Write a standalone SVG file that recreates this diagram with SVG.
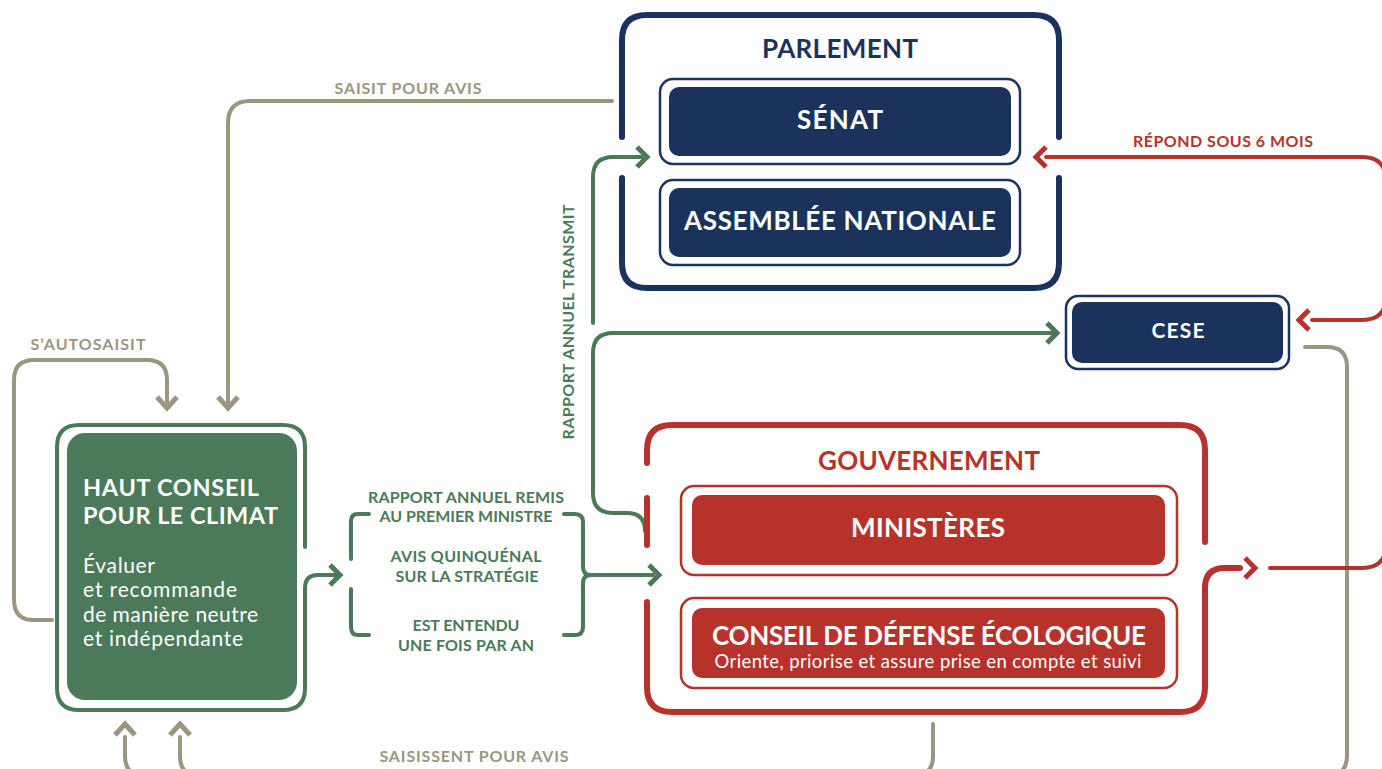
<svg xmlns="http://www.w3.org/2000/svg" width="1382" height="769" viewBox="0 0 1382 769">
<style>
.t{font-family:Lato,"Open Sans","Liberation Sans",sans-serif;font-weight:700}
.r{font-family:Lato,"Open Sans","Liberation Sans",sans-serif;font-weight:400}
.w{fill:#fff}
.navy{stroke:#1b335c}
.red{stroke:#b8322c}
.grn{stroke:#4a7a5a}
.gry{stroke:#9b9680}
.box{fill:none;stroke-width:6;stroke-linecap:round}
.ol{fill:#fff;stroke-width:2.5}
.ln{fill:none;stroke-width:4;stroke-linecap:round}
.ch{fill:none;stroke-width:5;stroke-linejoin:miter;stroke-linecap:butt}
.lbl{font-size:16px}
</style>
<rect width="1382" height="769" fill="#fff"/>

<g id="connectors">
  <path class="ln gry" d="M612,101 H250 Q228,101 228,123 V404"/>
  <path class="ch gry" d="M218,397 L228,408 L238,397"/>
  <path class="ln gry" d="M52,620 H34 Q14,620 14,600 V380 Q14,360 34,360 H147 Q167,360 167,380 V404"/>
  <path class="ch gry" d="M157,397 L167,408 L177,397"/>
  <path class="ln gry" d="M1305,347 H1327 Q1347,347 1347,367 V755 Q1347,776 1327,776 H145 Q125,776 125,756 V737"/>
  <path class="ln gry" d="M933,724 V756 Q933,776 913,776"/>
  <path class="ln gry" d="M180,737 V756 Q180,776 200,776"/>
  <path class="ch gry" d="M115,735 L125,724 L135,735"/>
  <path class="ch gry" d="M170,735 L180,724 L190,735"/>

  <path class="ln grn" d="M305,588 Q305,575 318,575 H336"/>
  <path class="ch grn" d="M330,565 L340,575 L330,585"/>
  <path class="ln grn" d="M369,514 H358 Q351,514 351,521 V559"/>
  <path class="ln grn" d="M351,589 V627 Q351,635 358,635 H369"/>
  <path class="ln grn" d="M564,514 H575 Q583,514 583,522 V567 Q583,575 591,575 H653"/>
  <path class="ln grn" d="M564,635 H575 Q583,635 583,627 V583 Q583,575 591,575"/>
  <path class="ch grn" d="M649,565 L659,575 L649,585"/>

  <path class="ln grn" d="M593,323 V177 Q593,157 613,157 H642"/>
  <path class="ch grn" d="M637,147 L647,157 L637,167"/>
  <path class="ln grn" d="M1053,333 H613 Q593,333 593,353 V493 Q593,513 613,513 H627 Q645,513 645,531"/>
  <path class="ch grn" d="M1047,323 L1057,333 L1047,343"/>

  <path class="ln red" d="M1270,568 H1362 Q1386,568 1386,544 V181 Q1386,157 1362,157 H1046"/>
  <path class="ln red" d="M1312,320 H1362 Q1386,320 1386,296"/>
  <path class="ch red" d="M1046,147 L1036,157 L1046,167"/>
  <path class="ch red" d="M1309,310 L1299,320 L1309,330"/>
  <path class="ch red" d="M1245,558 L1255,568 L1245,578"/>
</g>

<g id="parlement">
  <path class="box navy" d="M622,137 V40 Q622,15 647,15 H1034 Q1059,15 1059,40 V137"/>
  <path class="box navy" d="M622,178 V263 Q622,288 647,288 H1034 Q1059,288 1059,263 V178"/>
  <text class="t" x="840" y="58" font-size="26" fill="#1b335c" text-anchor="middle" textLength="156">PARLEMENT</text>
</g>
<g id="senat">
  <rect class="ol navy" x="660" y="79" width="360" height="85" rx="13"/>
  <rect x="669" y="87" width="342" height="69" rx="10" fill="#1b335c"/>
  <text class="t w" x="840" y="129" font-size="26" text-anchor="middle" textLength="86">SÉNAT</text>
</g>
<g id="assemblee">
  <rect class="ol navy" x="660" y="180" width="360" height="85" rx="13"/>
  <rect x="669" y="188" width="342" height="69" rx="10" fill="#1b335c"/>
  <text class="t w" x="840" y="230" font-size="26" text-anchor="middle" textLength="312">ASSEMBLÉE NATIONALE</text>
</g>

<g id="cese">
  <rect class="ol navy" x="1066" y="296" width="223" height="73" rx="12"/>
  <rect x="1072" y="302" width="211" height="61" rx="10" fill="#1b335c"/>
  <text class="t w" x="1178" y="338" font-size="21" text-anchor="middle" textLength="53">CESE</text>
</g>

<g id="gouvernement">
  <path class="box red" d="M647,463 V450 Q647,425 672,425 H1180 Q1205,425 1205,450 V542"/>
  <path class="box red" d="M647,498 V545"/>
  <path class="box red" d="M647,602 V687 Q647,712 672,712 H1180 Q1205,712 1205,687 V588 Q1205,568 1225,568 H1240"/>
  <text class="t" x="929" y="470" font-size="26" fill="#b8322c" text-anchor="middle" textLength="222">GOUVERNEMENT</text>
</g>
<g id="ministeres">
  <rect class="ol red" x="681" y="486" width="496" height="89" rx="13"/>
  <rect x="692" y="495" width="473" height="70" rx="10" fill="#b8322c"/>
  <text class="t w" x="928" y="537" font-size="26" text-anchor="middle" textLength="154">MINISTÈRES</text>
</g>
<g id="conseil-defense">
  <rect class="ol red" x="681" y="598" width="496" height="90" rx="13"/>
  <rect x="692" y="608" width="473" height="70" rx="10" fill="#b8322c"/>
  <text class="t w" x="929" y="645" font-size="26" text-anchor="middle" textLength="434">CONSEIL DE DÉFENSE ÉCOLOGIQUE</text>
  <text class="r w" x="928" y="668" font-size="18.5" text-anchor="middle" textLength="427">Oriente, priorise et assure prise en compte et suivi</text>
</g>

<g id="hcc">
  <path class="ln grn" stroke-width="5" d="M305,547 V447 Q305,425 283,425 H79 Q57,425 57,447 V688 Q57,710 79,710 H283 Q305,710 305,688 V588"/>
  <rect x="67" y="433" width="230" height="267" rx="18" fill="#4a7a5a"/>
  <text class="t w" font-size="23.5"><tspan x="83" y="496" textLength="176">HAUT CONSEIL</tspan><tspan x="83" y="524" textLength="195">POUR LE CLIMAT</tspan></text>
  <text class="r w" font-size="21"><tspan x="83" y="573" textLength="72">Évaluer</tspan><tspan x="83" y="597" textLength="154">et recommande</tspan><tspan x="83" y="622" textLength="175">de manière neutre</tspan><tspan x="83" y="646" textLength="160">et indépendante</tspan></text>
</g>

<g id="labels">
  <text class="t lbl" x="408" y="94" fill="#9b9680" text-anchor="middle" textLength="147">SAISIT POUR AVIS</text>
  <text class="t lbl" x="88" y="350" fill="#9b9680" text-anchor="middle" textLength="115">S’AUTOSAISIT</text>
  <text class="t lbl" x="474" y="762" fill="#9b9680" text-anchor="middle" textLength="189">SAISISSENT POUR AVIS</text>
  <text class="t lbl" x="1223" y="147" fill="#b8322c" text-anchor="middle" textLength="180">RÉPOND SOUS 6 MOIS</text>
  <text class="t lbl" transform="translate(574,322) rotate(-90)" fill="#4a7a5a" text-anchor="middle" textLength="235">RAPPORT ANNUEL TRANSMIT</text>
  <g fill="#4a7a5a" text-anchor="middle" class="t lbl">
    <text x="466" y="503" textLength="196">RAPPORT ANNUEL REMIS</text>
    <text x="466" y="522" textLength="173">AU PREMIER MINISTRE</text>
    <text x="466" y="562" textLength="151">AVIS QUINQUÉNAL</text>
    <text x="467" y="582" textLength="143">SUR LA STRATÉGIE</text>
    <text x="466" y="631" textLength="107">EST ENTENDU</text>
    <text x="466" y="651" textLength="136">UNE FOIS PAR AN</text>
  </g>
</g>
</svg>
